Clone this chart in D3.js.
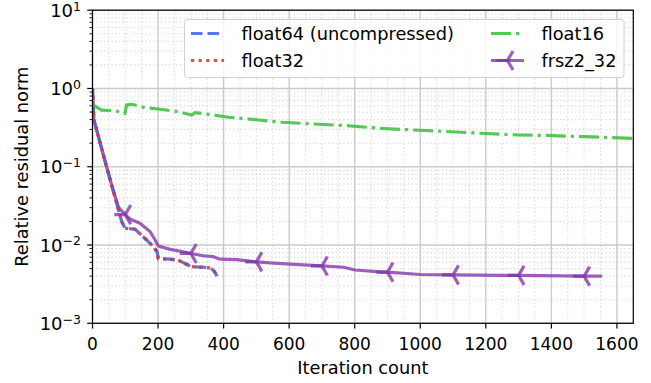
<!DOCTYPE html>
<html>
<head>
<meta charset="utf-8">
<script src="https://cdn.jsdelivr.net/npm/d3@7/dist/d3.min.js"></script>
<style>
  html, body { margin: 0; padding: 0; background: #fff; }
  svg { display: block; font-family: "DejaVu Sans", sans-serif; }
</style>
</head>
<body>
<svg id="chart" width="651" height="383"></svg>
<script>
// ---------------- data ----------------
const seriesNames = ["float64 (uncompressed)", "float32", "float16", "frsz2_32"];

const iterFloat64 = [0, 4, 43, 63, 89, 99, 130, 165, 186, 197, 201, 237, 265, 290, 300, 340, 360, 372, 380];
const resFloat64  = [1.0, 0.4, 0.1, 0.05, 0.02, 0.0164, 0.0159, 0.0116, 0.0095, 0.0082, 0.0067, 0.0066, 0.0063, 0.0056, 0.0053, 0.0052, 0.0051, 0.0046, 0.0040];

const iterFloat32 = [0, 4, 43, 63, 89, 99, 130, 165, 186, 197, 201, 237, 265, 290, 300, 340, 360, 372, 380];
const resFloat32  = [1.0, 0.4, 0.1, 0.05, 0.02, 0.0164, 0.0159, 0.0116, 0.0095, 0.0082, 0.0067, 0.0066, 0.0063, 0.0056, 0.0053, 0.0052, 0.0051, 0.0046, 0.0040];

const iterFloat16 = [0, 28, 69, 99, 104, 120, 160, 201, 262, 303, 313, 354, 415, 486, 578, 674, 776, 878, 980, 1051, 1183, 1295, 1407, 1499, 1660];
const resFloat16  = [0.62, 0.53, 0.52, 0.48, 0.615, 0.628, 0.569, 0.547, 0.505, 0.459, 0.491, 0.468, 0.429, 0.404, 0.370, 0.352, 0.335, 0.310, 0.295, 0.286, 0.268, 0.255, 0.250, 0.242, 0.230];

const iterFrsz2 = [0, 4, 43, 63, 80, 100, 115, 145, 176, 191, 201, 237, 277, 300, 338, 369, 389, 440, 500, 542, 603, 700, 766, 801, 888, 900, 1000, 1100, 1244, 1300, 1500, 1555];
const resFrsz2  = [1.0, 0.4, 0.1, 0.05, 0.03, 0.0245, 0.0214, 0.019, 0.0148, 0.0116, 0.0097, 0.0088, 0.0082, 0.0078, 0.0073, 0.0071, 0.0066, 0.0065, 0.0061, 0.0059, 0.0057, 0.0054, 0.0052, 0.0048, 0.0045, 0.0045, 0.0042, 0.00415, 0.0041, 0.0041, 0.0040, 0.0040];
const frsz2MarkerIters = [100, 300, 500, 700, 900, 1100, 1300, 1500];

const xTicks = [0, 200, 400, 600, 800, 1000, 1200, 1400, 1600];
const xMinorTicks = d3.range(0, 1651, 50);
const yExponents = [-3, -2, -1, 0, 1];

const xLabel = "Iteration count";
const yLabel = "Relative residual norm";

// ---------------- layout ----------------
const pLeft = 92.5, pRight = 633.3, pTop = 10.2, pBottom = 323.3;
const FS_LABEL = 17.8, FS_TICK = 17, FS_YTICK = 18, FS_SUP = 12.5;
const LW = 3.2;

const svg = d3.select("#chart");
const x = d3.scaleLinear().domain([0, 1650]).range([pLeft, pRight]);
const y = d3.scaleLog().domain([1e-3, 1e1]).range([pBottom, pTop]);

const yMajor = yExponents.map(e => Math.pow(10, e));
const yMinor = [];
yExponents.slice(0, -1).forEach(e => { for (let k = 2; k <= 9; k++) yMinor.push(k * Math.pow(10, e)); });

svg.append("defs").append("clipPath").attr("id", "clip")
  .append("rect").attr("x", pLeft).attr("y", pTop).attr("width", pRight - pLeft).attr("height", pBottom - pTop);

// ---------------- grid ----------------
const grid = svg.append("g");
grid.selectAll("line.minx").data(xMinorTicks.filter(v => v % 200 !== 0)).join("line")
  .attr("x1", d => x(d)).attr("x2", d => x(d)).attr("y1", pTop).attr("y2", pBottom)
  .attr("stroke", "#d4d4d4").attr("stroke-width", 1.1).attr("stroke-dasharray", "1.2,2.6");
grid.selectAll("line.miny").data(yMinor).join("line")
  .attr("x1", pLeft).attr("x2", pRight).attr("y1", d => y(d)).attr("y2", d => y(d))
  .attr("stroke", "#d4d4d4").attr("stroke-width", 1.1).attr("stroke-dasharray", "1.2,2.6");
grid.selectAll("line.majx").data(xTicks).join("line")
  .attr("x1", d => x(d)).attr("x2", d => x(d)).attr("y1", pTop).attr("y2", pBottom)
  .attr("stroke", "#cbcbcb").attr("stroke-width", 1.4);
grid.selectAll("line.majy").data(yMajor).join("line")
  .attr("x1", pLeft).attr("x2", pRight).attr("y1", d => y(d)).attr("y2", d => y(d))
  .attr("stroke", "#cbcbcb").attr("stroke-width", 1.4);

// ---------------- series ----------------
const plot = svg.append("g").attr("clip-path", "url(#clip)");
const line = d3.line().x(d => x(d[0])).y(d => y(d[1]));
const zipS = (a, b) => a.map((v, i) => [v, b[i]]);

const styles = {
  f64: { color: "#3d6be8", dash: "11.5,5", op: 0.9 },
  f32: { color: "#e62a2a", dash: "3.2,4.4", op: 0.85 },
  f16: { color: "#40bf40", dash: "20,5,3.2,5", op: 0.88 },
  frsz: { color: "#8033a8", dash: null, op: 0.78 }
};

plot.append("path").datum(zipS(iterFrsz2, resFrsz2))
  .attr("d", line).attr("fill", "none").attr("stroke", styles.frsz.color)
  .attr("stroke-width", LW).attr("stroke-opacity", styles.frsz.op).attr("stroke-linejoin", "round");

plot.append("path").datum(zipS(iterFloat64, resFloat64))
  .attr("d", line).attr("fill", "none").attr("stroke", styles.f64.color)
  .attr("stroke-width", LW).attr("stroke-opacity", styles.f64.op).attr("stroke-dasharray", styles.f64.dash);
plot.append("path").datum(zipS(iterFloat32, resFloat32))
  .attr("d", line).attr("fill", "none").attr("stroke", styles.f32.color)
  .attr("stroke-width", LW).attr("stroke-opacity", styles.f32.op).attr("stroke-dasharray", styles.f32.dash);
plot.append("path").datum(zipS(iterFloat16, resFloat16))
  .attr("d", line).attr("fill", "none").attr("stroke", styles.f16.color)
  .attr("stroke-width", LW).attr("stroke-opacity", styles.f16.op).attr("stroke-dasharray", styles.f16.dash);

function triLeft(g, cx, cy, r, color, op) {
  const p = `M${cx - r},${cy}L${cx},${cy}M${cx + r * 0.5},${cy - r * 0.866}L${cx},${cy}L${cx + r * 0.5},${cy + r * 0.866}`;
  g.append("path").attr("d", p).attr("fill", "none").attr("stroke", color)
    .attr("stroke-width", LW).attr("stroke-opacity", op).attr("stroke-linejoin", "miter");
}
const markerPts = zipS(iterFrsz2, resFrsz2).filter(d => frsz2MarkerIters.includes(d[0]));
markerPts.forEach(d => triLeft(plot, x(d[0]), y(d[1]), 11, styles.frsz.color, styles.frsz.op));

// ---------------- axes ----------------
const ax = svg.append("g");
ax.append("rect").attr("x", pLeft).attr("y", pTop).attr("width", pRight - pLeft).attr("height", pBottom - pTop)
  .attr("fill", "none").attr("stroke", "#000").attr("stroke-width", 1.2);

ax.selectAll("line.xt").data(xTicks).join("line")
  .attr("x1", d => x(d)).attr("x2", d => x(d)).attr("y1", pBottom).attr("y2", pBottom + 5.25)
  .attr("stroke", "#000").attr("stroke-width", 1.2);
ax.selectAll("text.xt").data(xTicks).join("text")
  .attr("x", d => x(d)).attr("y", 350).attr("text-anchor", "middle")
  .attr("font-size", FS_TICK).attr("fill", "#000").text(d => d);

ax.selectAll("line.ymaj").data(yMajor).join("line")
  .attr("x1", pLeft - 5.25).attr("x2", pLeft).attr("y1", d => y(d)).attr("y2", d => y(d))
  .attr("stroke", "#000").attr("stroke-width", 1.2);
ax.selectAll("line.ymin").data(yMinor).join("line")
  .attr("x1", pLeft - 3).attr("x2", pLeft).attr("y1", d => y(d)).attr("y2", d => y(d))
  .attr("stroke", "#000").attr("stroke-width", 0.9);
ax.selectAll("text.yt").data(yExponents).join("text")
  .attr("x", 81).attr("y", d => y(Math.pow(10, d)) + 6.6)
  .attr("text-anchor", "end").attr("font-size", FS_YTICK).attr("fill", "#000")
  .each(function(d) {
    const t = d3.select(this);
    t.append("tspan").text("10");
    t.append("tspan").attr("dy", -6.2).attr("font-size", FS_SUP).text(d < 0 ? "\u2212" + (-d) : String(d));
  });

svg.append("text").attr("x", (pLeft + pRight) / 2).attr("y", 374).attr("text-anchor", "middle")
  .attr("font-size", FS_LABEL).attr("fill", "#000").text(xLabel);
svg.append("text").attr("transform", `translate(28,${(pTop + pBottom) / 2}) rotate(-90)`)
  .attr("text-anchor", "middle").attr("font-size", FS_LABEL).attr("fill", "#000").text(yLabel);

// ---------------- legend ----------------
const lg = svg.append("g");
lg.append("rect").attr("x", 184.5).attr("y", 19.5).attr("width", 439.5).attr("height", 58)
  .attr("rx", 3).attr("fill", "#fff").attr("fill-opacity", 0.8)
  .attr("stroke", "#d0d0d0").attr("stroke-width", 1);

const legendItems = [
  { name: seriesNames[0], st: styles.f64, col: 0, row: 0 },
  { name: seriesNames[1], st: styles.f32, col: 0, row: 1 },
  { name: seriesNames[2], st: styles.f16, col: 1, row: 0 },
  { name: seriesNames[3], st: styles.frsz, col: 1, row: 1, marker: true }
];
const colX = [191, 491];
const rowY = [33.5, 60.5];
legendItems.forEach(it => {
  const hx = colX[it.col], hy = rowY[it.row];
  const p = lg.append("line").attr("x1", hx).attr("x2", hx + 33).attr("y1", hy).attr("y2", hy)
    .attr("stroke", it.st.color).attr("stroke-width", LW).attr("stroke-opacity", it.st.op);
  if (it.st.dash) p.attr("stroke-dasharray", it.st.dash);
  if (it.marker) triLeft(lg, hx + 16.5, hy, 11, it.st.color, it.st.op);
  lg.append("text").attr("x", hx + 50.5).attr("y", hy + 6.3).attr("font-size", FS_LABEL).attr("fill", "#000").text(it.name);
});
</script>
</body>
</html>
